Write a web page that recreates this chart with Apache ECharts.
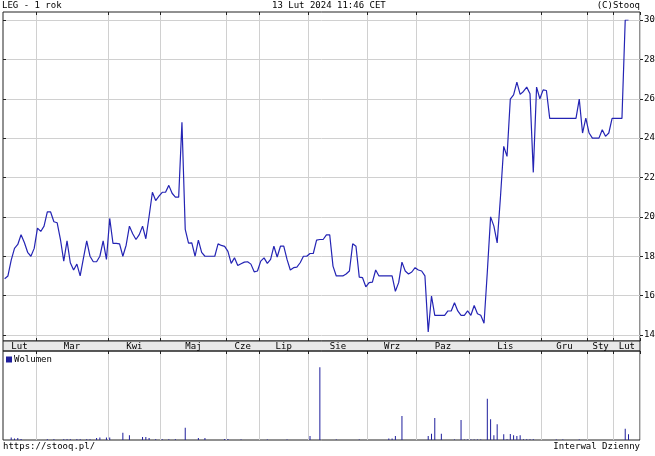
<!DOCTYPE html>
<html><head><meta charset="utf-8">
<script src="https://cdn.jsdelivr.net/npm/echarts@6/dist/echarts.min.js"></script>
<style>html,body{margin:0;padding:0;background:#fff}#c{width:655px;height:456px}</style>
</head><body><div id="c"></div>
<script>
// ---- data ----
const monthNames = ['Lut','Mar','Kwi','Maj','Cze','Lip','Sie','Wrz','Paz','Lis','Gru','Sty','Lut'];
const monthCounts = [10,22,16,20,10,15,18,15,16,22,14,8,8]; // sessions per month (last month padded)
const priceTicks = [14,16,18,20,22,24,26,28,30];
const prices = [
 16.86,17.0,17.8,18.4,18.6,19.09,18.7,18.2,18.0,18.4,
 19.43,19.26,19.53,20.25,20.25,19.75,19.7,18.85,17.75,18.78,
 17.67,17.3,17.6,17.0,17.9,18.78,18.0,17.72,17.72,18.0,
 18.78,17.84,19.92,18.65,18.65,18.63,18.0,18.56,19.53,19.14,
 18.85,19.1,19.53,18.89,20.03,21.25,20.83,21.05,21.25,21.25,
 21.6,21.2,21.0,21.0,24.8,19.36,18.67,18.68,18.0,18.82,
 18.2,18.0,18.0,18.0,18.0,18.63,18.55,18.5,18.25,17.64,
 17.92,17.53,17.62,17.7,17.72,17.6,17.21,17.25,17.75,17.92,
 17.64,17.84,18.51,17.96,18.51,18.51,17.84,17.3,17.42,17.45,
 17.67,18.0,18.0,18.14,18.14,18.82,18.85,18.85,19.09,19.09,
 17.5,17.0,17.0,17.0,17.1,17.25,18.63,18.51,16.94,16.91,
 16.45,16.66,16.69,17.3,17.0,17.0,17.0,17.0,17.0,16.22,
 16.66,17.7,17.25,17.1,17.2,17.42,17.3,17.25,17.0,14.15,
 15.98,15.0,15.0,15.0,15.0,15.22,15.22,15.64,15.22,15.0,
 15.0,15.22,15.0,15.5,15.08,15.0,14.6,17.2,20.0,19.53,
 18.68,21.0,23.58,23.07,25.98,26.2,26.84,26.22,26.37,26.59,
 26.25,22.26,26.59,26.0,26.45,26.42,25.0,25.0,25.0,25.0,
 25.0,25.0,25.0,25.0,25.0,25.98,24.26,25.02,24.26,24.0,
 24.0,24.0,24.43,24.09,24.26,25.0,25.0,25.0,25.0,30.0,
 30.0
];
const volumes = [
 0,0,250,150,200,100,0,0,0,0,
 0,0,0,80,0,80,0,0,80,80,
 80,0,80,80,0,80,80,0,200,250,
 0,250,250,0,0,0,730,0,470,0,
 0,0,300,300,200,0,80,0,80,0,
 80,0,80,0,0,1230,0,0,0,200,
 0,200,0,0,0,0,0,100,100,0,
 0,0,50,0,0,0,0,0,0,0,
 50,0,0,0,0,0,50,0,0,0,
 0,0,0,400,0,0,7270,0,0,0,
 0,50,0,0,0,0,0,0,50,0,
 0,0,0,0,0,0,0,150,150,400,
 0,2400,0,0,0,0,0,0,0,400,
 630,2200,0,630,0,0,0,50,0,2000,
 60,60,60,60,60,60,0,4130,2070,470,
 1570,0,570,80,600,470,400,470,80,80,
 80,80,0,0,0,0,0,0,60,0,
 60,0,0,0,0,60,0,0,0,0,
 0,0,0,0,0,0,0,0,0,1130,
 570
];

// ---- derived ----
const total = monthCounts.reduce((a,b)=>a+b,0);
const categories = Array.from({length: total}, (_, i) => String(i));
const starts = []; let acc = 0;
monthCounts.forEach(c => { starts.push(acc); acc += c; });
const startSet = new Set(starts.slice(1));
const isStart = (i) => startSet.has(i);
const mids = starts.map((s, k) => s + monthCounts[k] / 2);
const labelByMid = {}; mids.forEach((m, k) => { labelByMid[m.toFixed(2)] = monthNames[k]; });
const pad = (arr) => arr.concat(Array(total - arr.length).fill(null));

const FONT = 'DejaVu Sans Mono';
const L = 3, R = 15;
const GRID_C = '#d0d0d0', BORDER = '#222', LINE_C = '#2424b4', BAR_C = '#1e1e9c';
const txt = (extra) => Object.assign({fontSize: 9, fontWeight: 'normal', color: '#000', fontFamily: FONT}, extra || {});
const gridBase = {left: L, right: R, containLabel: false, outerBoundsMode: 'none'};

const chart = echarts.init(document.getElementById('c'), null, {renderer: 'canvas'});
chart.setOption({
  animation: false,
  backgroundColor: '#fff',
  textStyle: {fontFamily: FONT},
  title: [
    {text: 'LEG - 1 rok', left: 2, top: 1, padding: 0, textStyle: txt()},
    {text: '13 Lut 2024 11:46 CET', left: 272, top: 1, padding: 0, textStyle: txt()},
    {text: '(C)Stooq', right: R, top: 1, padding: 0, textStyle: txt()},
    {text: 'https://stooq.pl/', left: 3, top: 442, padding: 0, textStyle: txt()},
    {text: 'Interwal Dzienny', right: R, top: 442, padding: 0, textStyle: txt()}
  ],
  legend: {
    left: 6, top: 355, padding: 0, itemWidth: 6, itemHeight: 6, icon: 'rect',
    data: ['Wolumen'], textStyle: txt({padding: [0, 0, 0, -3]}), selectedMode: false
  },
  grid: [
    Object.assign({top: 12, height: 329, show: true, borderColor: BORDER, borderWidth: 1, backgroundColor: 'transparent'}, gridBase),
    Object.assign({top: 20, height: 315}, gridBase),
    Object.assign({top: 341, height: 10, show: true, borderColor: BORDER, borderWidth: 1, backgroundColor: '#e8e8e8'}, gridBase),
    Object.assign({top: 351, height: 89, show: true, borderColor: BORDER, borderWidth: 1, backgroundColor: 'transparent'}, gridBase)
  ],
  xAxis: [
    {gridIndex: 0, type: 'category', data: categories, position: 'top', boundaryGap: true,
     axisLine: {show: false, onZero: false},
     axisTick: {show: true, inside: true, length: 3, interval: (i) => isStart(i), lineStyle: {color: BORDER}},
     axisLabel: {show: false},
     splitLine: {show: true, interval: (i) => isStart(i), lineStyle: {color: GRID_C, width: 1}}},
    {gridIndex: 0, type: 'category', data: categories, position: 'bottom', boundaryGap: true,
     axisLine: {show: false, onZero: false},
     axisTick: {show: true, inside: true, length: 3, interval: (i) => isStart(i), lineStyle: {color: BORDER}},
     axisLabel: {show: false}, splitLine: {show: false}},
    {gridIndex: 1, type: 'category', data: categories, boundaryGap: true, show: false,
     axisLine: {onZero: false}},
    {gridIndex: 2, type: 'value', min: 0, max: total, position: 'top',
     axisLine: {show: false, onZero: false}, axisTick: {show: false}, splitLine: {show: false},
     axisLabel: {show: true, inside: true, margin: 1, customValues: mids,
       formatter: (v) => labelByMid[Number(v).toFixed(2)] || '', fontSize: 9, color: '#000', fontFamily: FONT}},
    {gridIndex: 3, type: 'category', data: categories, position: 'top', boundaryGap: true,
     axisLine: {show: false, onZero: false},
     axisTick: {show: true, inside: true, length: 3, interval: (i) => isStart(i), lineStyle: {color: BORDER}},
     axisLabel: {show: false},
     splitLine: {show: true, interval: (i) => isStart(i), lineStyle: {color: GRID_C, width: 1}}}
  ],
  yAxis: [
    {gridIndex: 1, type: 'value', position: 'right', min: priceTicks[0], max: priceTicks[priceTicks.length - 1], interval: 2,
     axisLine: {show: false},
     axisTick: {show: true, length: 3, lineStyle: {color: BORDER}},
     axisLabel: {margin: 4, fontSize: 9, color: '#000', fontFamily: FONT},
     splitLine: {show: true, lineStyle: {color: GRID_C, width: 1}}},
    {gridIndex: 1, type: 'value', position: 'left', min: priceTicks[0], max: priceTicks[priceTicks.length - 1], interval: 2,
     axisLine: {show: false},
     axisTick: {show: true, inside: true, length: 3, lineStyle: {color: BORDER}},
     axisLabel: {show: false}, splitLine: {show: false}},
    {gridIndex: 0, type: 'value', show: false},
    {gridIndex: 2, type: 'value', show: false},
    {gridIndex: 3, type: 'value', min: 0, max: 8900, show: false}
  ],
  series: [
    {type: 'line', name: 'LEG', xAxisIndex: 2, yAxisIndex: 0, data: pad(prices),
     showSymbol: false, symbol: 'none', lineStyle: {width: 1.2, color: LINE_C}, z: 5, connectNulls: false},
    {type: 'bar', name: 'Wolumen', xAxisIndex: 4, yAxisIndex: 4, data: pad(volumes),
     barWidth: 1, itemStyle: {color: BAR_C}}
  ]
});
</script>
</body></html>
